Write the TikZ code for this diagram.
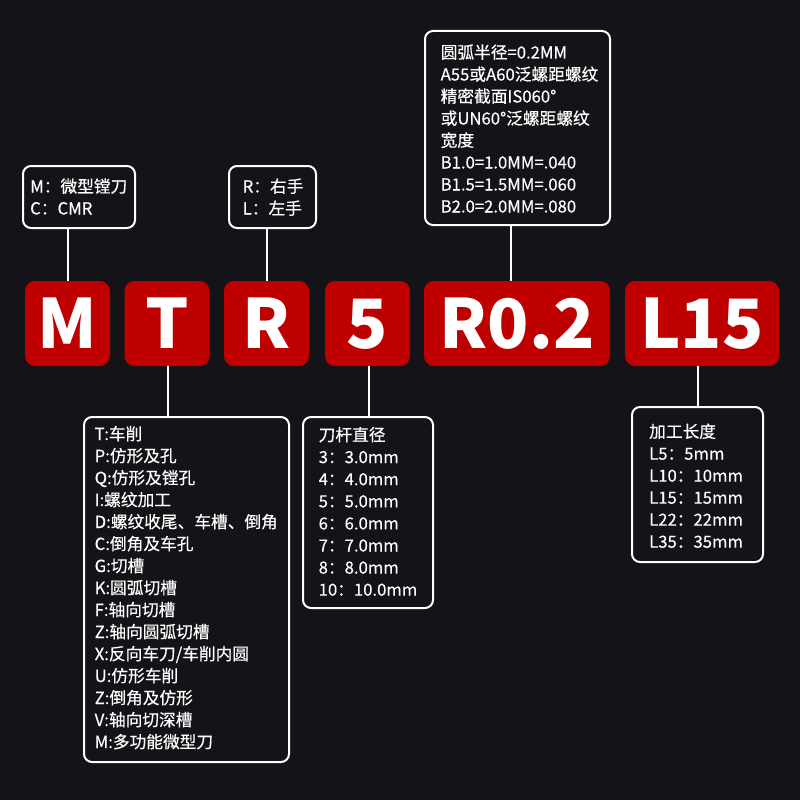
\documentclass[tikz,border=0pt]{standalone}
\usepackage{fontspec}
\newfontfamily\cjk{Noto Sans CJK SC}
\newfontfamily\cjkm{Noto Sans CJK SC}[FakeBold=0.35]
\definecolor{bg}{RGB}{20,20,24}
\definecolor{codered}{RGB}{190,0,0}
\begin{document}
\begin{tikzpicture}[x=1pt,y=-1pt,
  code/.style={fill=codered, rounded corners=10pt, inner sep=0pt, minimum height=85pt,
    text=white, font=\cjk\bfseries\fontsize{68}{80}\selectfont, text height=50pt, text depth=0pt},
  infobox/.style={draw=white, line width=2pt, rounded corners=8pt, inner sep=0pt},
  link/.style={draw=white, line width=2pt},
  txt/.style={anchor=base west, inner sep=0pt, text=white, font=\cjkm\fontsize{16.7}{22}\selectfont}]
\fill[bg] (0,0) rectangle (800,800);
\useasboundingbox (0,0) rectangle (800,800);

% code boxes
\node[code, minimum width=85pt]  (cM)   at (67.5,323.5)  {M};
\node[code, minimum width=85pt]  (cT)   at (167,323.5)   {T};
\node[code, minimum width=85pt]  (cR)   at (266.5,323.5) {R};
\node[code, minimum width=85pt]  (c5)   at (367.5,323.5) {5};
\node[code, minimum width=186pt] (cR02) at (517,323.5)   {R0.2};
\node[code, minimum width=154pt] (cL)   at (702,323.5)   {L15};

% info boxes
\node[infobox, minimum width=112pt, minimum height=62pt]  (bM)   at (79,197)    {};
\node[infobox, minimum width=87pt,  minimum height=62pt]  (bR)   at (272.5,197) {};
\node[infobox, minimum width=185pt, minimum height=194pt] (bR02) at (517.5,128) {};
\node[infobox, minimum width=205pt, minimum height=345pt] (bT)   at (186.5,589.5) {};
\node[infobox, minimum width=130pt, minimum height=191pt] (b5)   at (368,512.5) {};
\node[infobox, minimum width=131pt, minimum height=155pt] (bL)   at (697.5,484.5) {};

% connectors
\draw[link] (cM.north) -- (cM.north |- bM.south);
\draw[link] (cR.north) -- (cR.north |- bR.south);
\coordinate (kR02) at ([xshift=-6pt]cR02.north);
\draw[link] (kR02) -- (kR02 |- bR02.south);
\coordinate (kT) at ([xshift=1pt]cT.south);
\draw[link] (kT) -- (kT |- bT.north);
\coordinate (k5) at ([xshift=1.5pt]c5.south);
\draw[link] (k5) -- (k5 |- b5.north);
\coordinate (kL) at ([xshift=-4pt]cL.south);
\draw[link] (kL) -- (kL |- bL.north);

% texts
\foreach \t [count=\i from 0] in {M：微型镗刀, C：CMR}
  \node[txt] (tM\i) at (30,192.5+22*\i) {\t};
\foreach \t [count=\i from 0] in {R：右手, L：左手}
  \node[txt] (tR\i) at (242.5,192.5+22*\i) {\t};
\foreach \t [count=\i from 0] in {圆弧半径=0.2MM, A55或A60泛螺距螺纹, 精密截面IS060°, 或UN60°泛螺距螺纹, 宽度, B1.0=1.0MM=.040, B1.5=1.5MM=.060, B2.0=2.0MM=.080}
  \node[txt] (tA\i) at (440.5,58.5+22*\i) {\t};
\foreach \t [count=\i from 0] in {T:车削, P:仿形及孔, Q:仿形及镗孔, I:螺纹加工, D:螺纹收尾、车槽、倒角, C:倒角及车孔, G:切槽, K:圆弧切槽, F:轴向切槽, Z:轴向圆弧切槽, X:反向车刀/车削内圆, U:仿形车削, Z:倒角及仿形, V:轴向切深槽, M:多功能微型刀}
  \node[txt] (tT\i) at (94.5,440+22*\i) {\t};
\foreach \t [count=\i from 0] in {刀杆直径, 3：3.0mm, 4：4.0mm, 5：5.0mm, 6：6.0mm, 7：7.0mm, 8：8.0mm, 10：10.0mm}
  \node[txt] (t5\i) at (318.5,441+22.1*\i) {\t};
\foreach \t [count=\i from 0] in {加工长度, L5：5mm, L10：10mm, L15：15mm, L22：22mm, L35：35mm}
  \node[txt] (tL\i) at (649,437.7+22*\i) {\t};
\end{tikzpicture}
\end{document}
